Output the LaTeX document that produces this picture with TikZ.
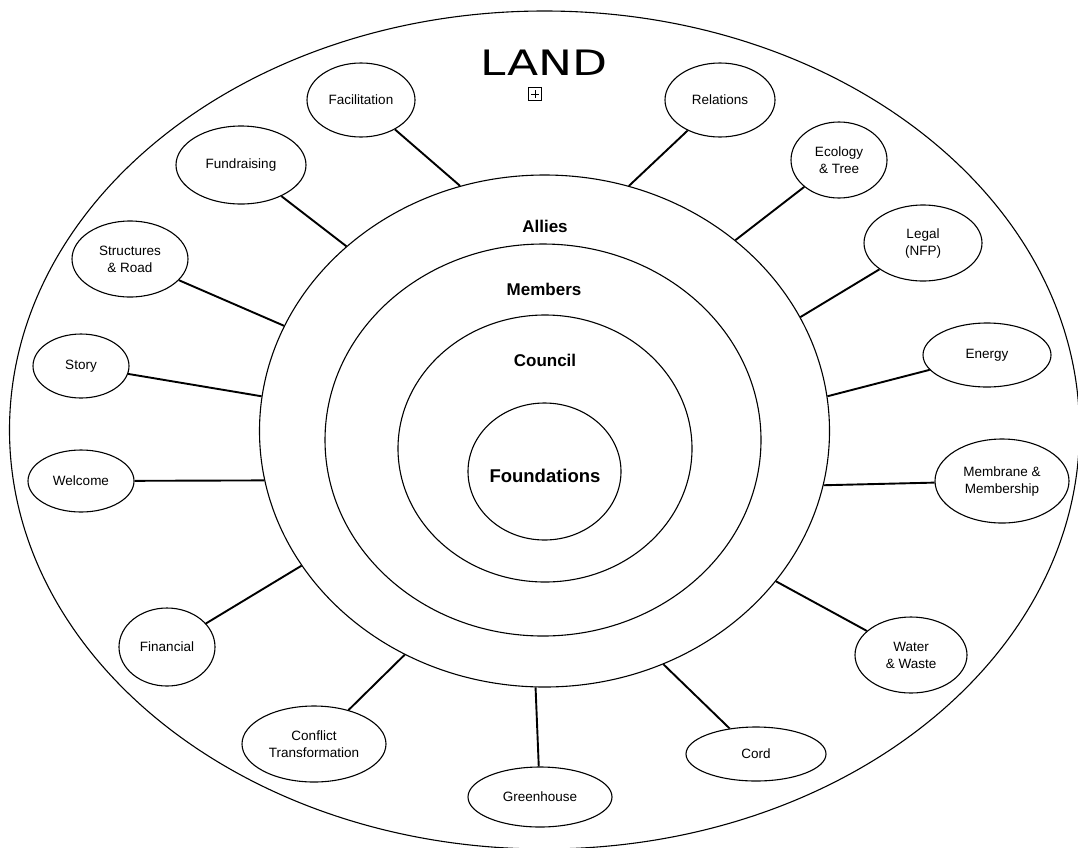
\documentclass[tikz,border=0pt]{standalone}
\usepackage{fontspec}
\setmainfont{Liberation Sans}
\newfontfamily\titlefont{DejaVu Sans}
\usetikzlibrary{shapes.geometric}
\tikzset{
  ring/.style={draw, ellipse, line width=1.1pt, inner sep=0pt},
  topic/.style={draw, ellipse, line width=1.1pt, inner sep=0pt, align=center,
    font=\fontsize{13.5}{17}\selectfont, fill=white},
  ringlabel/.style={anchor=base, font=\fontsize{17}{20}\selectfont\bfseries},
  link/.style={line width=1.9pt},
}
\begin{document}
\begin{tikzpicture}[x=1pt,y=-1pt]
\useasboundingbox (0,0) rectangle (1078,847);
% outer land ellipse
\node[ring, minimum width=1070pt, minimum height=838pt] (land) at (544.5,430) {};
\node[anchor=base, xscale=1.3, font=\titlefont\fontsize{35}{35}\selectfont] (title) at (544,75) {LAND};
\node[draw, line width=0.9pt, minimum size=13pt, inner sep=0pt] (box) at (535,94) {};
\draw[line width=0.9pt, shorten <=3pt, shorten >=3pt] (box.north) -- (box.south);
\draw[line width=0.9pt, shorten <=3pt, shorten >=3pt] (box.west) -- (box.east);

% concentric rings
\node[ring, minimum width=570pt, minimum height=512pt] (allies) at (544.5,431) {};
\node[ring, minimum width=436pt, minimum height=392pt] (members) at (543,440) {};
\node[ring, minimum width=294pt, minimum height=267pt] (council) at (545,448.5) {};
\node[ring, minimum width=153pt, minimum height=137pt] (found) at (544.5,471.5) {};
\node[ringlabel] (tallies) at (545,232) {Allies};
\node[ringlabel] (tmembers) at (544,295) {Members};
\node[ringlabel] (tcouncil) at (545,366) {Council};
\node[ringlabel, font=\fontsize{18.5}{22}\selectfont\bfseries] (tfound) at (545,482) {Foundations};

% topic ellipses
\node[topic, minimum width=108pt, minimum height=74pt] (fac) at (361,100) {Facilitation};
\node[topic, minimum width=110pt, minimum height=74pt] (rel) at (720,100) {Relations};
\node[topic, minimum width=130pt, minimum height=78pt] (fund) at (241,165) {Fundraising};
\node[topic, minimum width=96pt, minimum height=76pt] (eco) at (839,160) {Ecology\\\& Tree};
\node[topic, minimum width=116pt, minimum height=76pt] (struct) at (130,259) {Structures\\\& Road};
\node[topic, minimum width=118pt, minimum height=76pt] (legal) at (923,243) {Legal\\(NFP)};
\node[topic, minimum width=96pt, minimum height=64pt] (story) at (81,366) {Story};
\node[topic, minimum width=128pt, minimum height=64pt] (energy) at (987,355) {Energy};
\node[topic, minimum width=106pt, minimum height=62pt] (welcome) at (81,481) {Welcome};
\node[topic, minimum width=134pt, minimum height=84pt] (memb) at (1002,481) {Membrane \&\\Membership};
\node[topic, minimum width=96pt, minimum height=78pt] (fin) at (167,647) {Financial};
\node[topic, minimum width=112pt, minimum height=76pt] (water) at (911,655) {Water\\\& Waste};
\node[topic, minimum width=144pt, minimum height=76pt] (conf) at (314,744) {Conflict\\Transformation};
\node[topic, minimum width=140pt, minimum height=54pt] (cord) at (756,754) {Cord};
\node[topic, minimum width=144pt, minimum height=60pt] (green) at (540,797) {Greenhouse};

% connectors
\draw[link] (fac) -- (allies.109.1);
\draw[link] (rel) -- (allies.71.2);
\draw[link] (fund) -- (allies.137.9);
\draw[link] (eco) -- (allies.45.7);
\draw[link] (struct) -- (allies.158.5);
\draw[link] (legal) -- (allies.24.8);
\draw[link] (story) -- (allies.173.8);
\draw[link] (energy) -- (allies.7.0);
\draw[link] (welcome) -- (allies.190.5);
\draw[link] (memb) -- (allies.349.4);
\draw[link] (fin) -- (allies.209.3);
\draw[link] (water) -- (allies.327.9);
\draw[link] (conf) -- (allies.238.1);
\draw[link] (cord) -- (allies.297.2);
\draw[link] (green) -- (allies.268.6);
\end{tikzpicture}
\end{document}
